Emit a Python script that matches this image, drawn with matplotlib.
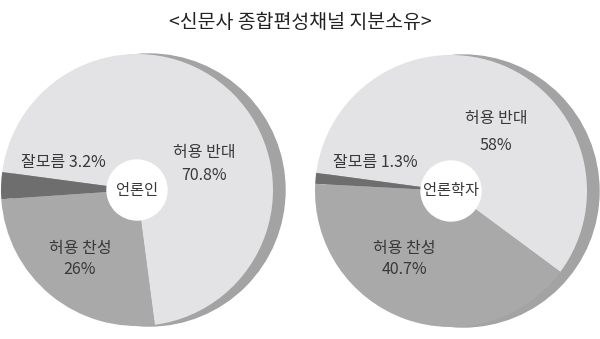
import matplotlib
matplotlib.use("Agg")
import matplotlib.pyplot as plt
from matplotlib.patches import Circle

plt.rcParams['font.family'] = ['Noto Sans CJK KR', 'DejaVu Sans']

# Data
title = '<신문사 종합편성채널 지분소유>'
groups = ['언론인', '언론학자']
categories = ['허용 반대', '잘모름', '허용 찬성']
journalists = [70.8, 3.2, 26.0]
scholars = [58.0, 1.3, 40.7]
value_text = {
    '언론인': ['70.8%', '3.2%', '26%'],
    '언론학자': ['58%', '1.3%', '40.7%'],
}

# Style / layout (pixel coords, y measured from top)
colors = ['#e3e3e5', '#6e6e6e', '#a9a9aa']
shadow_color = '#a3a3a4'
text_color = '#383838'
W, H = 600, 339
centers = [(137, 190), (451, 191)]
radius = 136
hole_r = 30
start_angles = [-82.5, -36.5]
label_pos = [
    [(204, 153, 175), (63, 162, None), (80, 248, 270)],
    [(496, 118, 145), (375, 163, None), (404, 248, 270)],
]
fs = 11.5

fig = plt.figure(figsize=(W / 100, H / 100), dpi=100)
ax = fig.add_axes([0, 0, 1, 1])

for i, (group, vals) in enumerate(zip(groups, [journalists, scholars])):
    cx, cy = centers[i]
    cy = H - cy
    # shadow disc behind the pie
    ax.add_patch(Circle((cx + 12, cy), radius, color=shadow_color, zorder=1))
    wedges, _ = ax.pie(vals, colors=colors, center=(cx, cy), radius=radius,
                       startangle=start_angles[i], counterclock=True,
                       frame=True, wedgeprops=dict(linewidth=0))
    for w in wedges:
        w.set_zorder(2)
    ax.add_patch(Circle((cx, cy), hole_r, color='white', zorder=3))
    ax.text(cx, cy, group, ha='center', va='center', fontsize=11,
            color=text_color, zorder=4)

    for j, cat in enumerate(categories):
        x, y1, y2 = label_pos[i][j]
        pct = value_text[group][j]
        if y2 is None:
            ax.text(x, H - y1, cat + ' ' + pct, ha='center', va='center',
                    fontsize=fs, color=text_color, zorder=4)
        else:
            ax.text(x, H - y1, cat, ha='center', va='center',
                    fontsize=fs, color=text_color, zorder=4)
            ax.text(x, H - y2, pct, ha='center', va='center',
                    fontsize=fs, color=text_color, zorder=4)

ax.set_xlim(0, W)
ax.set_ylim(0, H)
ax.set_aspect('equal')
ax.axis('off')

ax.text(W / 2, H - 22, title, ha='center', va='center', fontsize=14,
        color='#222222')

fig.savefig('out.png', dpi=100)
